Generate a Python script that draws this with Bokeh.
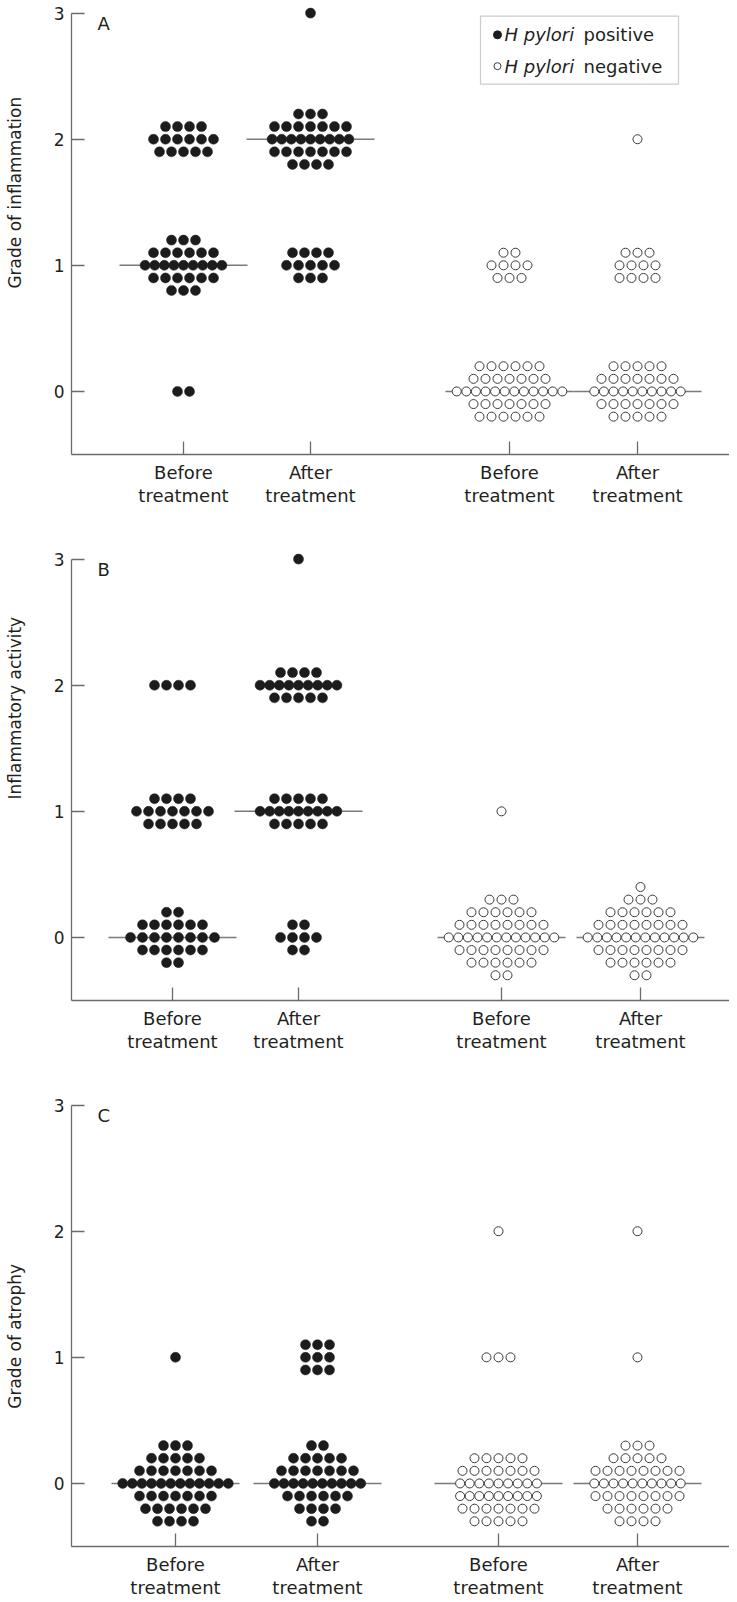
import math
from bokeh.plotting import figure
from bokeh.models import Range1d, FixedTicker, Label, BoxAnnotation
from bokeh.layouts import column, row
from bokeh.embed import file_html
from bokeh.resources import INLINE

FONT = "DejaVu Sans"

# ---------------- data ----------------
tick_labels = ["Before\ntreatment", "After\ntreatment", "Before\ntreatment", "After\ntreatment"]
group_status = ["positive", "positive", "negative", "negative"]
panel_letters = ["A", "B", "C"]
y_titles = ["Grade of inflammation", "Inflammatory activity", "Grade of atrophy"]
grade_ticks = [0, 1, 2, 3]

# each cluster: (group index, grade, dots per row from top to bottom, index of the row lying on the grade)
a_clusters = [
    (0, 2, [4, 6, 5], 1),
    (0, 1, [3, 6, 9, 6, 3], 2),
    (0, 0, [2], 0),
    (1, 3, [1], 0),
    (1, 2, [3, 7, 9, 7, 4], 2),
    (1, 1, [4, 5, 3], 1),
    (2, 1, [2, 4, 3], 1),
    (2, 0, [6, 7, 12, 7, 6], 2),
    (3, 2, [1], 0),
    (3, 1, [3, 4, 4], 1),
    (3, 0, [5, 7, 10, 7, 5], 2),
]
a_medians = [1, 2, 0, 0]

b_clusters = [
    (0, 2, [4], 0),
    (0, 1, [4, 7, 5], 1),
    (0, 0, [2, 6, 8, 6, 2], 2),
    (1, 3, [1], 0),
    (1, 2, [4, 9, 5], 1),
    (1, 1, [5, 9, 5], 1),
    (1, 0, [2, 4, 2], 1),
    (2, 1, [1], 0),
    (2, 0, [3, 6, 8, 12, 8, 6, 2], 3),
    (3, 0, [1, 3, 6, 8, 12, 8, 6, 2], 4),
]
b_medians = [0, 1, 0, 0]

c_clusters = [
    (0, 1, [1], 0),
    (0, 0, [3, 5, 7, 12, 7, 6, 4], 3),
    (1, 1, [3, 3, 3], 1),
    (1, 0, [2, 5, 7, 10, 6, 4, 2], 3),
    (2, 2, [1], 0),
    (2, 1, [3], 0),
    (2, 0, [5, 7, 9, 9, 7, 5], 2),
    (3, 2, [1], 0),
    (3, 1, [1], 0),
    (3, 0, [3, 5, 8, 10, 8, 6, 4], 3),
]
c_medians = [0, 0, 0, 0]

# ---------------- layout constants (page pixels) ----------------
group_x = [[191, 318, 517, 645], [180, 306, 509, 648], [183, 325, 506, 645]]
title_centre = [1.57, 1.82, 1.16]   # grade level at which each y title is centred
ROW_STEP = 0.1
PX = 126.0
STRIP_W = 34
MAIN_W = 729 - STRIP_W
X0, X1 = 79, 737
Y0, Y1 = -0.5, 3.1
FRAME_H = 454
heights = [546, 546, 518]
grade3_y = [20, 567, 1112]
AX = "#6b6b6b"
TXT = "#231f20"


def points(xc, clusters, status):
    xs, ys = [], []
    for g, grade, rows, mid in clusters:
        if group_status[g] != status:
            continue
        for i, n in enumerate(rows):
            step = 12.0 if n <= 8 else 9.6
            y = grade + (mid - i) * ROW_STEP
            for j in range(n):
                xs.append(xc[g] + (j - (n - 1) / 2) * step)
                ys.append(y)
    return xs, ys


panels = [(a_clusters, a_medians), (b_clusters, b_medians), (c_clusters, c_medians)]
figs = []
for k, (clusters, medians) in enumerate(panels):
    xc = group_x[k]
    h = heights[k]
    p = figure(width=MAIN_W, height=h, x_range=Range1d(X0, X1), y_range=Range1d(Y0, Y1),
               output_backend="svg", toolbar_location=None,
               min_border_left=X0 - 8 - STRIP_W, min_border_right=0, min_border_top=0,
               min_border_bottom=h - FRAME_H)
    p.outline_line_color = None
    p.grid.visible = False
    p.background_fill_color = "white"
    p.border_fill_color = "white"

    ya = p.yaxis[0]
    ya.ticker = FixedTicker(ticks=grade_ticks)
    ya.bounds = (Y0, 3)
    ya.major_tick_in = 13
    ya.major_tick_out = 0
    ya.minor_tick_line_color = None
    ya.axis_line_color = AX
    ya.axis_line_width = 1.3
    ya.major_tick_line_color = AX
    ya.major_tick_line_width = 1.3
    ya.major_label_text_font = FONT
    ya.major_label_text_font_size = "17px"
    ya.major_label_text_color = TXT
    ya.major_label_standoff = 7

    xa = p.xaxis[0]
    xa.ticker = FixedTicker(ticks=xc)
    xa.major_tick_in = 13
    xa.major_tick_out = 0
    xa.minor_tick_line_color = None
    xa.axis_line_color = AX
    xa.axis_line_width = 1.3
    xa.major_tick_line_color = AX
    xa.major_tick_line_width = 1.3
    xa.major_label_text_font = FONT
    xa.major_label_text_color = TXT
    xa.major_label_overrides = {x: t for x, t in zip(xc, tick_labels)}
    xa.major_label_text_font_size = "18px"
    xa.major_label_standoff = 7
    xa.major_label_text_line_height = 1.1

    p.segment(x0=[x - 64 for x in xc], x1=[x + 64 for x in xc], y0=medians, y1=medians,
              line_color="#7a7a7a", line_width=1.5)

    xs, ys = points(xc, clusters, "positive")
    p.scatter(xs, ys, size=10, marker="circle", fill_color="#1c1c1c", line_color="#1c1c1c", line_width=0.5)
    xs, ys = points(xc, clusters, "negative")
    p.scatter(xs, ys, size=9, marker="circle", fill_color="white", line_color="#3a3a3a", line_width=1)

    p.add_layout(Label(x=105, y=3, text=panel_letters[k], text_align="left", text_baseline="top",
                       text_font=FONT, text_font_size="18px", text_color=TXT))

    if k == 0:
        p.add_layout(BoxAnnotation(left=488, right=686, top=3 - 3 / PX, bottom=3 - 71 / PX,
                                   fill_color=None, fill_alpha=0, line_color="#555555", line_width=1.2))
        p.scatter([505], [3 - 21.7 / PX], size=8, marker="circle", fill_color="#1c1c1c", line_color="#1c1c1c")
        p.scatter([505], [3 - 53 / PX], size=7, marker="circle", fill_color="white", line_color="#3a3a3a")
        for yy, word in [(3 - 21.7 / PX, "positive"), (3 - 53 / PX, "negative")]:
            p.add_layout(Label(x=512, y=yy, text="H pylori", text_font=FONT, text_font_style="italic",
                               text_font_size="18px", text_baseline="middle", text_color=TXT))
            p.add_layout(Label(x=591, y=yy, text=word, text_font=FONT,
                               text_font_size="18px", text_baseline="middle", text_color=TXT))
    figs.append(p)

# narrow strip on the left carrying the three y titles (y in page pixels, growing downwards)
total_h = sum(heights)
strip = figure(width=STRIP_W, height=total_h, x_range=Range1d(8, 8 + STRIP_W),
               y_range=Range1d(8 + total_h, 8), x_axis_type=None, y_axis_type=None,
               output_backend="svg", toolbar_location=None,
               min_border_left=0, min_border_right=0, min_border_top=0, min_border_bottom=0)
strip.outline_line_color = None
strip.grid.visible = False
for k in range(3):
    yc = grade3_y[k] + (3 - title_centre[k]) * PX
    strip.add_layout(Label(x=22, y=yc, text=y_titles[k], angle=math.pi / 2, text_align="center",
                           text_baseline="middle", text_font=FONT, text_font_size="17px",
                           text_color=TXT))

layout = row(strip, column(*figs, spacing=0), spacing=0)
open("out.html", "w").write(file_html(layout, INLINE))
